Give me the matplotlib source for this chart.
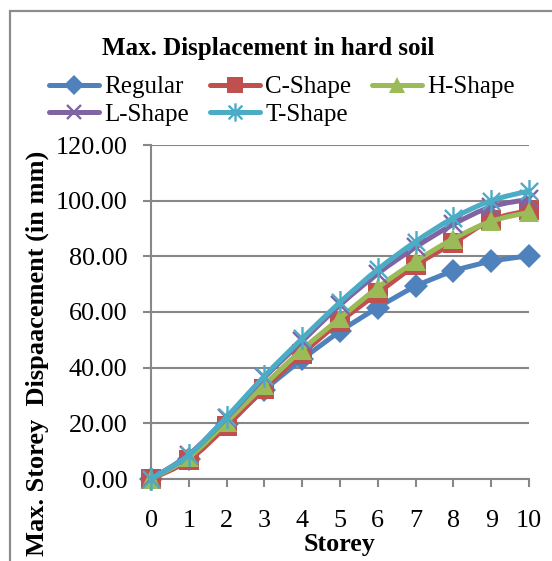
import numpy as np
import matplotlib
matplotlib.use("Agg")
import matplotlib.pyplot as plt
from matplotlib.path import Path
from matplotlib.patches import PathPatch, Rectangle
from matplotlib.lines import Line2D

plt.rcParams['font.family'] = ['Liberation Serif', 'DejaVu Serif']

storey = [0, 1, 2, 3, 4, 5, 6, 7, 8, 9, 10]
regular = [0, 7.2, 19.8, 32.0, 43.0, 53.0, 61.6, 69.2, 74.7, 78.2, 80.2]
c_shape = [0, 6.8, 19.0, 32.5, 45.0, 56.5, 66.8, 76.8, 84.8, 93.0, 96.5]
h_shape = [0, 7.8, 20.5, 33.8, 46.5, 57.8, 68.8, 78.2, 86.3, 92.6, 95.8]
l_shape = [0, 8.8, 22.0, 36.5, 49.5, 62.5, 73.8, 83.3, 91.5, 97.8, 100.5]
t_shape = [0, 8.6, 22.3, 37.0, 50.5, 63.5, 75.3, 85.3, 93.8, 100.0, 103.5]

series_names = ["Regular", "C-Shape", "H-Shape", "L-Shape", "T-Shape"]
y_ticks = [0, 20, 40, 60, 80, 100, 120]

# asterisk marker: vertical stroke plus a diagonal cross
asterisk = Path(
    [(0, -1), (0, 1), (-0.75, -0.75), (0.75, 0.75), (-0.75, 0.75), (0.75, -0.75)],
    [Path.MOVETO, Path.LINETO, Path.MOVETO, Path.LINETO, Path.MOVETO, Path.LINETO],
)

styles = [
    dict(color="#4F81BD", marker="D", ms=12.5, mew=0),
    dict(color="#C0504D", marker="s", ms=14.5, mew=0),
    dict(color="#9BBB59", marker="^", ms=15, mew=0),
    dict(color="#8064A2", marker="x", ms=13, mew=1.7),
    dict(color="#4BACC6", marker=asterisk, ms=16.5, mew=1.7),
]
series = [regular, c_shape, h_shape, l_shape, t_shape]

W, H = 552, 561
fig = plt.figure(figsize=(W / 100, H / 100), dpi=100)
ax = fig.add_axes([151 / W, 82 / H, 378 / W, 334 / H])

grid_c = "#878787"
LW = 3.6
FS = 18
FS_TICK = 18.8


def smooth_path(xs, ys):
    """Catmull-Rom style smoothed curve as cubic Bezier segments."""
    p = np.column_stack([xs, ys]).astype(float)
    n = len(p)
    verts = [p[0]]
    codes = [Path.MOVETO]
    for i in range(n - 1):
        p0 = p[i - 1] if i > 0 else p[i]
        p1 = p[i]
        p2 = p[i + 1]
        p3 = p[i + 2] if i + 2 < n else p[i + 1]
        c1 = p1 + (p2 - p0) / 6.0
        c2 = p2 - (p3 - p1) / 6.0
        verts += [c1, c2, p2]
        codes += [Path.CURVE4] * 3
    return Path(verts, codes)


handles = []
for name, ys, st in zip(series_names, series, styles):
    patch = PathPatch(smooth_path(storey, ys), fill=False, ec=st["color"],
                      lw=LW, capstyle="round", joinstyle="round", zorder=3, clip_on=False)
    ax.add_patch(patch)
    ax.plot(storey, ys, linestyle="none", marker=st["marker"], ms=st["ms"],
            mfc=st["color"] if st["mew"] == 0 else "none", mec=st["color"],
            mew=st["mew"], zorder=3, clip_on=False)
    handles.append(Line2D([], [], color=st["color"], lw=LW, marker=st["marker"],
                          ms=st["ms"] * 0.8,
                          mfc=st["color"] if st["mew"] == 0 else "none",
                          mec=st["color"], mew=st["mew"], solid_capstyle="round",
                          label=name))

ax.set_xlim(0, 10)
ax.set_ylim(0, 120)
ax.set_xticks(storey)
ax.set_yticks(y_ticks)
ax.set_yticklabels([f"{v:.2f}" for v in y_ticks])
ax.yaxis.grid(True, color=grid_c, lw=1.5)
ax.set_axisbelow(True)
for s in ["top", "right"]:
    ax.spines[s].set_visible(False)
for s in ["left", "bottom"]:
    ax.spines[s].set_color(grid_c)
    ax.spines[s].set_linewidth(1.5)
ax.tick_params(axis="both", direction="out", length=6, width=1.5, color=grid_c,
               labelsize=FS_TICK, labelcolor="black")
ax.tick_params(axis="y", pad=11)
ax.tick_params(axis="x", pad=16.5)

fig.text(268 / W, 1 - 48 / H, "Max. Displacement in hard soil", ha="center",
         va="center", fontsize=FS, fontweight="bold")
fig.text(340 / W, 1 - 545 / H, "Storey", ha="center", va="center",
         fontsize=FS_TICK, fontweight="bold")
fig.text(37 / W, 1 - 353 / H, "Max. Storey  Dispaacement (in mm)", ha="center",
         va="center", rotation=90, fontsize=19, fontweight="bold")

order = [0, 3, 1, 4, 2]
fig.legend([handles[i] for i in order], [series_names[i] for i in order],
           ncol=3, loc="upper left", bbox_to_anchor=(49 / W, 1 - 76 / H),
           frameon=False, fontsize=FS, borderpad=0, borderaxespad=0,
           handlelength=2.0, handletextpad=0.2, columnspacing=0.85,
           labelspacing=0.2)

fig.add_artist(Rectangle((9.5 / W, -0.1), 1.2, 0.1 + (H - 11) / H,
                         transform=fig.transFigure, fill=False, ec="#8c8c8c", lw=1.6))

fig.savefig("out.png", dpi=100)
